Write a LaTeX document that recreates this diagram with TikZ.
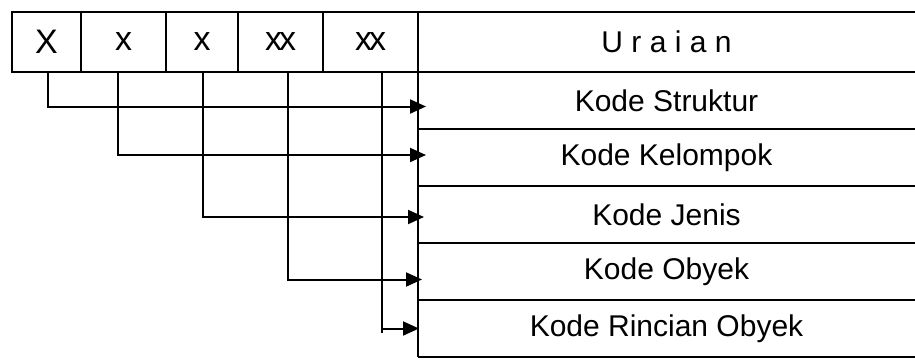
\documentclass[tikz,border=0pt]{standalone}
\usepackage{fontspec}
\setmainfont{Liberation Sans}
\usetikzlibrary{arrows.meta}
\begin{document}
\begin{tikzpicture}[x=0.5pt,y=-0.5pt,line width=0.7pt,outer sep=0pt,
	kolom/.style={draw,inner sep=0pt,anchor=north west,minimum height=30pt,font=\fontsize{17}{20}\selectfont},
	baris/.style={inner sep=0pt,anchor=north west,minimum width=248.5pt,minimum height=28.5pt,font=\fontsize{15}{18}\selectfont},
	panah/.style={line width=1pt,-{Triangle[length=8pt,width=7pt]}}]
				\useasboundingbox (0,0) rectangle (915,359);
				% kolom kode
				\node[kolom,minimum width=34.5pt] (k1) at (12,12) {X};
				\node[kolom,minimum width=42.5pt] (k2) at (k1.north east) {x};
				\node[kolom,minimum width=36pt] (k3) at (k2.north east) {x};
				\node[kolom,minimum width=42.5pt] (k4) at (k3.north east) {x\kern-1.5pt x};
				\node[kolom,minimum width=47.5pt] (k5) at (k4.north east) {x\kern-1.5pt x};
				
				% kolom uraian
				\node[baris,minimum height=30pt] (u) at (418,12) {U r a i a n};
				\node[baris] (r1) at (418,72) {Kode Struktur};
				\node[baris] (r2) at (418,129) {Kode Kelompok};
				\node[baris] (r3) at (418,186) {Kode Jenis};
				\node[baris] (r4) at (418,243) {Kode Obyek};
				\node[baris] (r5) at (418,300) {Kode Rincian Obyek};
				\draw (u.north west) -- (u.north east);
				\foreach \n in {u,r1,r2,r3,r4,r5}
					\draw (\n.south west) -- (\n.south east);
				\draw (u.north west) -- (r5.south west);
				
				% panah
				\draw[panah] ([xshift=0.75pt]k1.south) |- ([xshift=4pt,yshift=-3pt]r1.west);
				\draw[panah] ([xshift=-2.75pt]k2.south) |- ([xshift=4pt,yshift=1.25pt]r2.west);
				\draw[panah] ([xshift=0.5pt]k3.south) |- ([xshift=3pt,yshift=-1.25pt]r3.west);
				\draw[panah] ([xshift=3.75pt]k4.south) |- ([xshift=2pt,yshift=-4pt]r4.west);
				\draw[line width=1pt] ([xshift=5.75pt]k5.south) -- ++(0,261);
				\draw[panah] ([xshift=5.75pt]k5.south) |- ([xshift=0.5pt]r5.west);
\end{tikzpicture}
\end{document}
